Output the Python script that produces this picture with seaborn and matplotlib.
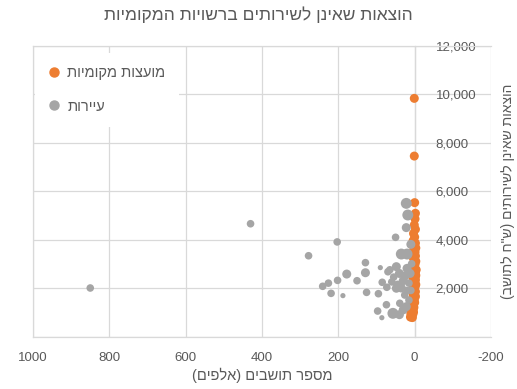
import matplotlib
matplotlib.use('Agg')
import matplotlib.pyplot as plt
from matplotlib.ticker import FuncFormatter, FixedLocator
from matplotlib.lines import Line2D
import seaborn as sns
import pandas as pd

# ── data ───────────────────────────────────────────────────────
TITLE = 'הוצאות שאינן לשירותים ברשויות המקומיות'
X_LABEL = 'מספר תושבים (אלפים)'
Y_LABEL = 'הוצאות שאינן לשירותים (ש"ח לתושב)'
GROUPS = ['מועצות מקומיות', 'עיירות']

# local councils (orange)
council_pop = [1, 1, 0, -2, -1, 1, -2, 3, 0, 4, -2, 2, -3, 3, -1, 1, -2, 4, 0, -3,
               2, -1, 5, 0, 1, -4, 3, -2, 0, 6, -3, 2, -1, 4, -2, 1, 0, 5, -3, 2,
               -1, 3, 1, 6, -2, 2, 4, 0, -2, 3, 6, 1, 4, 0, 8, 3, 6, 2, 8, 4,
               7, 3, 10, 5, 9, 11, 6]
council_spend = [9820, 7440, 5520, 5080, 4850, 4600, 4420, 4250, 4100, 3950, 3850, 3780,
                 3650, 3550, 3480, 3400, 3320, 3250, 3180, 3100, 3050, 2980, 2920, 2860,
                 2800, 2750, 2700, 2650, 2600, 2560, 2520, 2480, 2430, 2380, 2330, 2280,
                 2230, 2180, 2140, 2100, 2050, 2000, 1950, 1900, 1850, 1800, 1750, 1700,
                 1650, 1600, 1550, 1500, 1450, 1400, 1350, 1300, 1250, 1200, 1150, 1100,
                 1050, 1000, 950, 900, 850, 800, 780]

# towns (gray)
town_pop = [850, 430, 278, 203, 129, 129, 178, 90, 70, 151, 202, 226, 241, 219, 188,
            126, 95, 85, 73, 74, 97, 86, 22, 18, 22, 50, 35, 20, 48, 20, 40, 25, 55,
            30, 15, 45, 48, 26, 39, 22, 57, 40, 30, 15, 10, 12, 8, 10, 60, 35, 20, 65]
town_spend = [2000, 4650, 3330, 3900, 3045, 2630, 2575, 2840, 2670, 2300, 2315, 2200,
              2070, 1780, 1685, 1820, 1765, 2235, 2030, 1310, 1050, 775, 5490, 5010,
              4490, 4090, 3400, 3400, 2880, 2810, 2600, 2500, 2450, 2300, 2200, 2150,
              1990, 1710, 1370, 1230, 955, 900, 1100, 1500, 1900, 2600, 3000, 3800,
              2250, 2000, 1900, 2750]
town_weight = [2, 2, 2, 2, 2, 3, 3, 1, 2, 2, 2, 2, 2, 2, 1, 2, 2, 2, 2, 2, 2, 1,
               4, 4, 3, 2, 4, 4, 3, 3, 3, 3, 2, 3, 2, 2, 3, 2, 2, 3, 4, 3, 3, 2,
               2, 3, 2, 3, 2, 3, 2, 2]

X_TICKS = [1000, 800, 600, 400, 200, 0, -200]
Y_TICKS = [0, 2000, 4000, 6000, 8000, 10000, 12000]

ORANGE = '#ED7D31'
GRAY = '#A5A5A5'
TEXT = '#595959'
GRID = '#D9D9D9'


def rtl(s):
    """Visual order for Hebrew text (no bidi engine available)."""
    return s[::-1].translate(str.maketrans('()', ')('))


sns.set_style('white')
plt.rcParams['font.family'] = ['Liberation Sans', 'DejaVu Sans']
plt.rcParams['axes.unicode_minus'] = False

df = pd.concat([
    pd.DataFrame({'pop': council_pop, 'spend': council_spend,
                  'group': GROUPS[0], 'w': 3}),
    pd.DataFrame({'pop': town_pop, 'spend': town_spend,
                  'group': GROUPS[1], 'w': town_weight}),
], ignore_index=True)

fig = plt.figure(figsize=(5.17, 3.89), dpi=100)
ax = fig.add_axes([33 / 517, 1 - 336.5 / 389, 458 / 517, 291 / 389])

sns.scatterplot(data=df, x='pop', y='spend', hue='group', size='w',
                sizes={1: 14, 2: 30, 3: 42, 4: 62},
                palette={GROUPS[0]: ORANGE, GROUPS[1]: GRAY},
                linewidth=0, alpha=1, legend=False, ax=ax, zorder=3)

ax.set_xlim(1000, -200)
ax.set_ylim(0, 12000)
ax.xaxis.set_major_locator(FixedLocator(X_TICKS))
ax.yaxis.set_major_locator(FixedLocator(Y_TICKS))
ax.xaxis.set_major_formatter(FuncFormatter(lambda v, p: f'{int(v)}'))
ax.yaxis.set_major_formatter(FuncFormatter(lambda v, p: '-' if v == 0 else f'{v:,.0f}'))

ax.grid(True, color=GRID, linewidth=0.9, zorder=0)
ax.set_axisbelow(True)
for side in ['left', 'top', 'bottom']:
    ax.spines[side].set_color(GRID)
    ax.spines[side].set_linewidth(0.9)
ax.spines['right'].set_position(('data', 0))
ax.spines['right'].set_color(GRID)
ax.spines['right'].set_linewidth(0.9)

ax.yaxis.tick_right()
ax.tick_params(axis='y', length=0, pad=15, labelsize=9.5, labelcolor=TEXT)
ax.tick_params(axis='x', length=0, pad=11, labelsize=9.5, labelcolor=TEXT)

ax.set_xlabel(rtl(X_LABEL), fontsize=10.5, color=TEXT, labelpad=3)
ax.set_ylabel(rtl(Y_LABEL), fontsize=10, color=TEXT, rotation=90, va='center')
ax.yaxis.set_label_position('right')
ax.yaxis.set_label_coords(1.022, 0.5)

fig.text(0.5, 1 - 15 / 389, rtl(TITLE), ha='center', va='center',
         fontsize=12.5, color=TEXT)

handles = [Line2D([], [], marker='o', linestyle='', color=ORANGE, markersize=6.5),
           Line2D([], [], marker='o', linestyle='', color=GRAY, markersize=6.5)]
leg = ax.legend(handles, [rtl(g) for g in GROUPS], loc='upper left',
                bbox_to_anchor=(0.005, 0.975), frameon=True, fontsize=10.5,
                labelspacing=1.35, handlelength=0.8, handletextpad=0.5,
                borderpad=0.9, borderaxespad=0)
leg.get_frame().set_facecolor('white')
leg.get_frame().set_edgecolor('none')
leg.get_frame().set_alpha(1)
for t in leg.get_texts():
    t.set_color(TEXT)

fig.savefig('out.png', dpi=100)
